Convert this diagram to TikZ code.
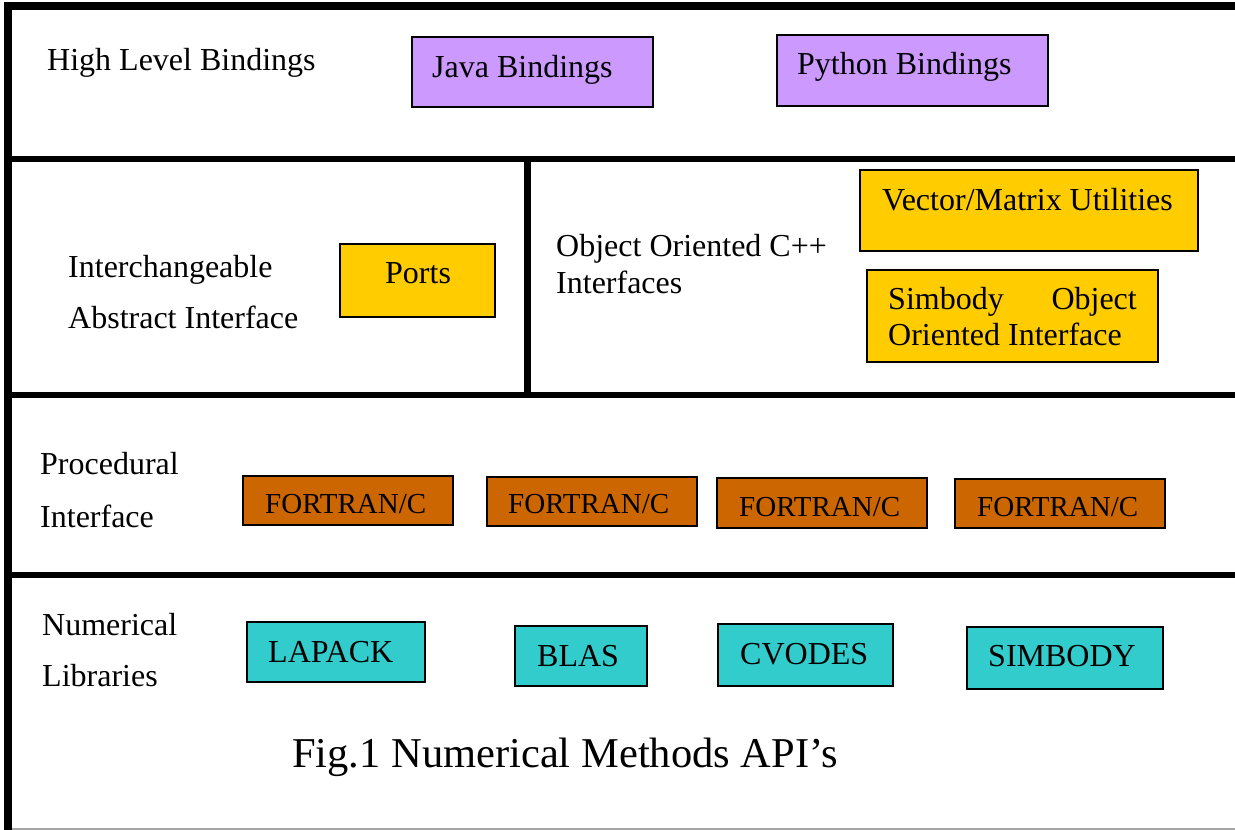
\documentclass[tikz,border=0pt]{standalone}
\usepackage{fontspec}
\setmainfont{Liberation Serif}
\definecolor{cpurple}{HTML}{CC99FF}
\definecolor{cyellow}{HTML}{FFCC00}
\definecolor{corange}{HTML}{CC6600}
\definecolor{cteal}{HTML}{33CCCC}
\tikzset{
  box/.style={draw=black, line width=1.6pt, anchor=north west, inner sep=0pt, outer sep=0pt},
  txt/.style={anchor=base west, inner sep=0pt, font=\fontsize{32}{38}\selectfont},
  ftxt/.style={anchor=base west, inner sep=0pt, font=\fontsize{29}{34}\selectfont},
  thick line/.style={line width=8pt, black},
  sep line/.style={line width=6pt, black},
}
\begin{document}
\begin{tikzpicture}[x=1pt,y=-1pt]
\useasboundingbox (0,0) rectangle (1235,830);
% frame
\coordinate (tl) at (4,6);
\coordinate (tr) at (1235,6);
\coordinate (lt) at (8,2);
\coordinate (lb) at (8,830);
\draw[thick line] (tl) -- (tr);
\draw[thick line] (lt) -- (lb);
\coordinate (b0) at (12,829);
\coordinate (b1) at (1235,829);
\draw[gray!70, line width=1.5pt] (b0) -- (b1);
% separators
\coordinate (s1a) at (12,159); \coordinate (s1b) at (1235,159);
\coordinate (s2a) at (12,395); \coordinate (s2b) at (1235,395);
\coordinate (s3a) at (12,575); \coordinate (s3b) at (1235,575);
\coordinate (v1a) at (527,159); \coordinate (v1b) at (527,395);
\draw[sep line] (s1a) -- (s1b);
\draw[sep line] (s2a) -- (s2b);
\draw[sep line] (s3a) -- (s3b);
\draw[line width=7pt] (v1a) -- (v1b);

% Row 1
\node[txt] (hlb) at (47,70) {High Level Bindings};
\node[box, fill=cpurple, minimum width=241pt, minimum height=70pt] (javab) at (412,37) {};
\node[txt] (javat) at (432,77) {Java Bindings};
\node[box, fill=cpurple, minimum width=271pt, minimum height=71pt] (pyb) at (777,35) {};
\node[txt] (pyt) at (797,74) {Python Bindings};

% Row 2
\node[txt] (iai1) at (68,277) {Interchangeable};
\node[txt] (iai2) at (68,328) {Abstract Interface};
\node[box, fill=cyellow, minimum width=155pt, minimum height=73pt] (portsb) at (340,244) {};
\node[txt] (portst) at (385,283) {Ports};
\node[txt] (ooc1) at (556,256) {Object Oriented C++};
\node[txt] (ooc2) at (556,293) {Interfaces};
\node[box, fill=cyellow, minimum width=338pt, minimum height=81pt] (vecb) at (860,170) {};
\node[txt] (vect) at (882,210) {Vector/Matrix Utilities};
\node[box, fill=cyellow, minimum width=291pt, minimum height=92pt] (simb) at (867,270) {};
\node[txt] (simt1) at (888,309) {Simbody};
\node[txt, anchor=base east] (simt2) at (1137,309) {Object};
\node[txt] (simt3) at (888,345) {Oriented Interface};

% Row 3
\node[txt] (proc1) at (40,474) {Procedural};
\node[txt] (proc2) at (40,527) {Interface};
\node[box, fill=corange, minimum width=210pt, minimum height=49pt] (f1b) at (243,476) {};
\node[ftxt] (f1t) at (265,513) {FORTRAN/C};
\node[box, fill=corange, minimum width=210pt, minimum height=49pt] (f2b) at (487,477) {};
\node[ftxt] (f2t) at (508,513) {FORTRAN/C};
\node[box, fill=corange, minimum width=210pt, minimum height=50pt] (f3b) at (717,478) {};
\node[ftxt] (f3t) at (739,516) {FORTRAN/C};
\node[box, fill=corange, minimum width=210pt, minimum height=49pt] (f4b) at (955,479) {};
\node[ftxt] (f4t) at (977,516) {FORTRAN/C};

% Row 4
\node[txt] (num1) at (42,635) {Numerical};
\node[txt] (num2) at (42,686) {Libraries};
\node[box, fill=cteal, minimum width=178pt, minimum height=60pt] (lapb) at (247,622) {};
\node[txt] (lapt) at (268,662) {LAPACK};
\node[box, fill=cteal, minimum width=132pt, minimum height=60pt] (blab) at (515,626) {};
\node[txt] (blat) at (537,666) {BLAS};
\node[box, fill=cteal, minimum width=175pt, minimum height=62pt] (cvob) at (718,624) {};
\node[txt] (cvot) at (740,664) {CVODES};
\node[box, fill=cteal, minimum width=196pt, minimum height=62pt] (simbb) at (967,627) {};
\node[txt] (simbt) at (988,666) {SIMBODY};

% Caption
\node[anchor=base west, inner sep=0pt, font=\fontsize{42.5}{50}\selectfont] (cap) at (292,767) {Fig.1 Numerical Methods API’s};
\end{tikzpicture}
\end{document}
